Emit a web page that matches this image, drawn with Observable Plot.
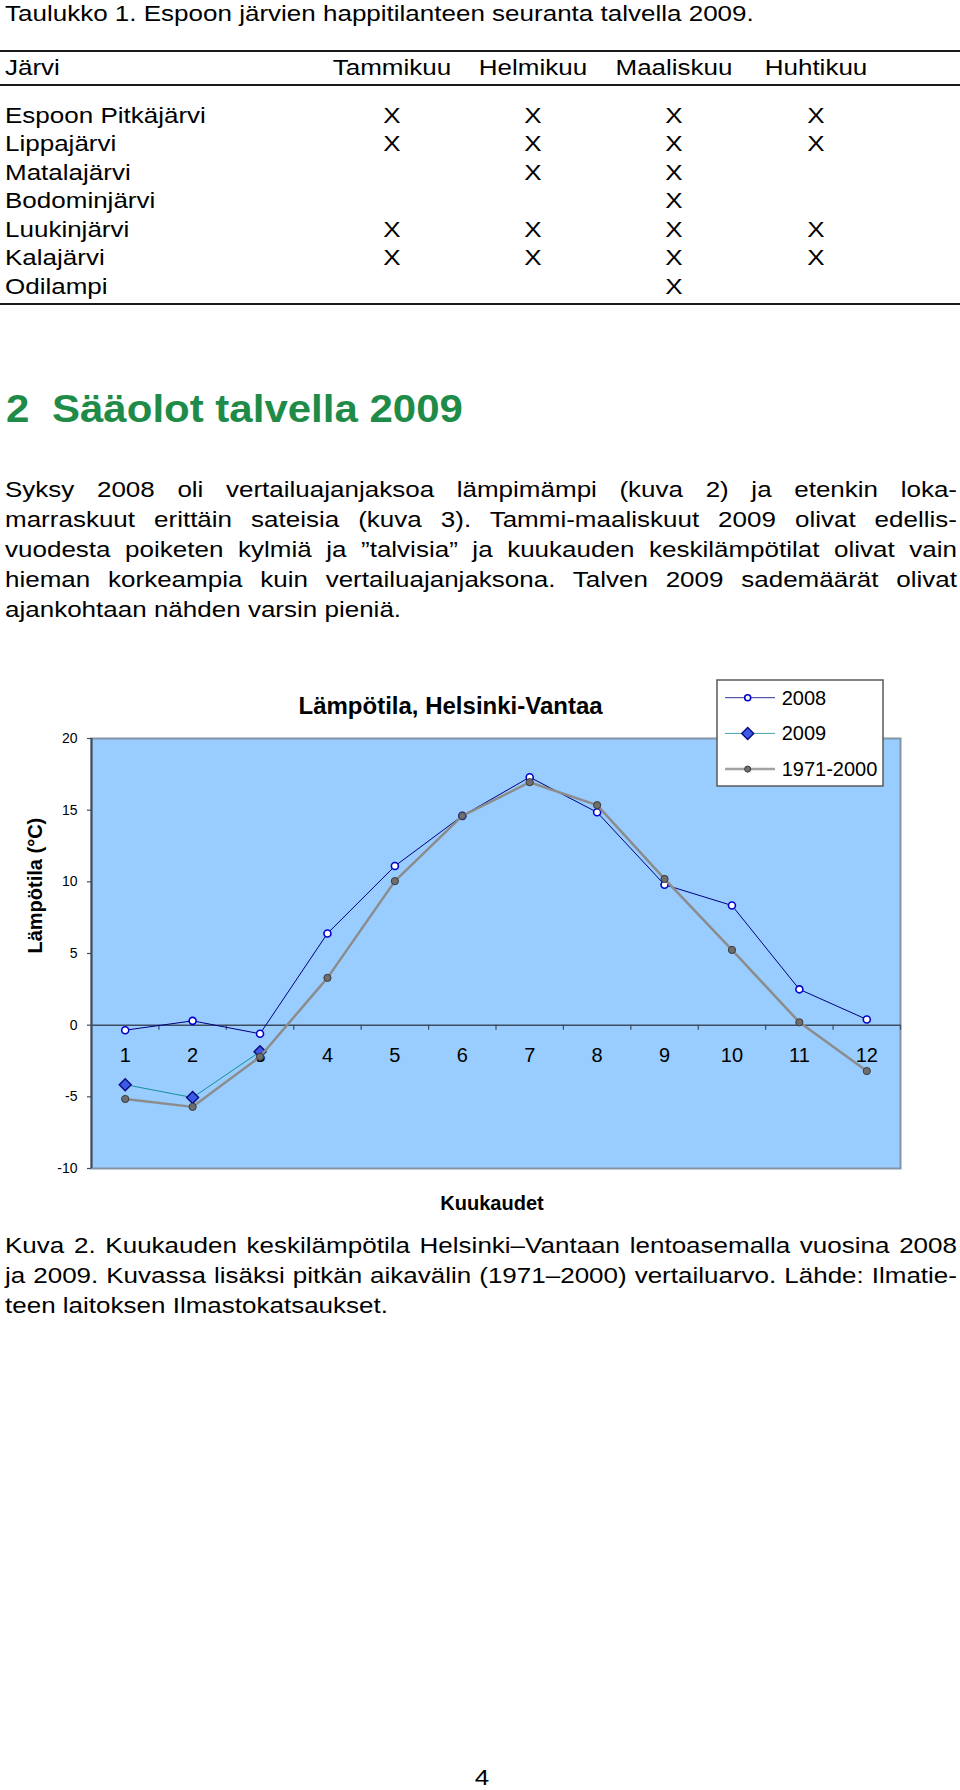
<!DOCTYPE html>
<html><head><meta charset="utf-8">
<script src="https://cdn.jsdelivr.net/npm/d3@7"></script>
<script src="https://cdn.jsdelivr.net/npm/@observablehq/plot@0.6"></script>
<style>
html,body{margin:0;padding:0;background:#fff;}
#page{position:relative;width:960px;height:1790px;overflow:hidden;font-family:"Liberation Sans",Arial,sans-serif;color:#000;}
.t{position:absolute;white-space:pre;}
.rule{position:absolute;left:0;width:960px;height:2px;background:#1a1a1a;}
</style></head><body><div id="page"></div>
<script>
// ---------- data ----------
const tableTitle = "Taulukko 1. Espoon järvien happitilanteen seuranta talvella 2009.";
const tableFirstHeader = "Järvi";
const tableMonths = ["Tammikuu", "Helmikuu", "Maaliskuu", "Huhtikuu"];
const lakes = ["Espoon Pitkäjärvi", "Lippajärvi", "Matalajärvi", "Bodominjärvi", "Luukinjärvi", "Kalajärvi", "Odilampi"];
const sampled = [[1,1,1,1],[1,1,1,1],[0,1,1,0],[0,0,1,0],[1,1,1,1],[1,1,1,1],[0,0,1,0]];
const headingNumber = "2";
const headingText = "Sääolot talvella 2009";
const paragraphLines = [
  "Syksy 2008 oli vertailuajanjaksoa lämpimämpi (kuva 2) ja etenkin loka-",
  "marraskuut erittäin sateisia (kuva 3). Tammi-maaliskuut 2009 olivat edellis-",
  "vuodesta poiketen kylmiä ja ”talvisia” ja kuukauden keskilämpötilat olivat vain",
  "hieman korkeampia kuin vertailuajanjaksona. Talven 2009 sademäärät olivat",
  "ajankohtaan nähden varsin pieniä."
];
const captionLines = [
  "Kuva 2. Kuukauden keskilämpötila Helsinki–Vantaan lentoasemalla vuosina 2008",
  "ja 2009. Kuvassa lisäksi pitkän aikavälin (1971–2000) vertailuarvo. Lähde: Ilmatie-",
  "teen laitoksen Ilmastokatsaukset."
];
const pageNumber = "4";

const months = [1, 2, 3, 4, 5, 6, 7, 8, 9, 10, 11, 12];
const temp2008 = [-0.35, 0.3, -0.6, 6.4, 11.1, 14.6, 17.3, 14.85, 9.8, 8.35, 2.5, 0.4];
const temp2009 = [-4.15, -5.05, -1.85];
const temp1971_2000 = [-5.15, -5.7, -2.2, 3.3, 10.05, 14.6, 16.95, 15.35, 10.2, 5.25, 0.2, -3.2];
const seriesNames = ["2008", "2009", "1971-2000"];
const yTicks = [-10, -5, 0, 5, 10, 15, 20];
const chartTitle = "Lämpötila, Helsinki-Vantaa";
const xTitle = "Kuukaudet";
const yTitle = "Lämpötila (°C)";

// ---------- styles ----------
const FONT = "'Liberation Sans', Arial, sans-serif";
const sty = {
  "2008": {line: "#000080", lw: 1, sym: "circle", fill: "#ffffff", stroke: "#0000cc", sw: 1.6, r: 3.5},
  "2009": {line: "#12909a", lw: 1, sym: "diamond2", fill: "#3c5ae6", stroke: "#0a0a80", sw: 1.4, r: 5.4},
  "1971-2000": {line: "#8c8c8c", lw: 2.5, sym: "circle", fill: "#6e6e6e", stroke: "#3a3a3a", sw: 1, r: 3.6}
};

// ---------- document text ----------
const page = document.getElementById("page");
const BODY = 26, BODY_SY = 0.85;
function txt(str, {left, width, baseline, size = BODY, weight = 400, color = "#000", align = "left", sy = BODY_SY, justify = false}) {
  const d = document.createElement("div");
  d.className = "t";
  d.textContent = str;
  const asc = 0.8465 * size;
  Object.assign(d.style, {
    left: left + "px", top: (baseline - asc) + "px",
    fontSize: size + "px", lineHeight: size + "px", fontWeight: weight, color,
    textAlign: align, transformOrigin: `0 ${asc}px`, transform: `scaleY(${sy})`
  });
  if (width != null) d.style.width = width + "px";
  if (justify) { d.style.whiteSpace = "normal"; d.style.textAlign = "justify"; d.style.textAlignLast = "justify"; }
  page.appendChild(d);
}
function rule(y) {
  const r = document.createElement("div");
  r.className = "rule"; r.style.top = y + "px";
  page.appendChild(r);
}

// table
txt(tableTitle, {left: 5, baseline: 21});
rule(50); rule(84); rule(303);
const colCenters = [392, 533, 674, 816];
txt(tableFirstHeader, {left: 5, baseline: 75});
tableMonths.forEach((m, j) => txt(m, {left: colCenters[j] - 100, width: 200, align: "center", baseline: 75}));
lakes.forEach((lake, i) => {
  const b = 123 + 28.5 * i;
  txt(lake, {left: 5, baseline: b});
  sampled[i].forEach((v, j) => { if (v) txt("X", {left: colCenters[j] - 100, width: 200, align: "center", baseline: b}); });
});

// heading
txt(headingNumber, {left: 6, baseline: 423, size: 42, weight: 700, color: "#1e8c48", sy: 0.92});
txt(headingText, {left: 52, baseline: 423, size: 42, weight: 700, color: "#1e8c48", sy: 0.92});

// paragraph
paragraphLines.forEach((l, i) => {
  const last = i === paragraphLines.length - 1;
  txt(l, {left: 5, width: 952, baseline: 497 + 30 * i, justify: !last});
});

// caption
captionLines.forEach((l, i) => {
  const last = i === captionLines.length - 1;
  txt(l, {left: 5, width: 952, baseline: 1253 + 30 * i, justify: !last});
});

txt(pageNumber, {left: 432, width: 100, align: "center", baseline: 1785});

// ---------- chart ----------
const rows = (name, vals) => vals.map((v, i) => ({month: months[i], temp: v, series: name}));
const d2008 = rows("2008", temp2008);
const d2009 = rows("2009", temp2009);
const dNorm = rows("1971-2000", temp1971_2000);
const bounds = months.map(m => m + 0.5);
const axisCol = "#3d4d5e";

function seriesMarks(data, name) {
  const s = sty[name];
  return [
    Plot.line(data, {x: "month", y: "temp", stroke: s.line, strokeWidth: s.lw}),
    Plot.dot(data, {x: "month", y: "temp", symbol: s.sym, r: s.r, fill: s.fill, stroke: s.stroke, strokeWidth: s.sw})
  ];
}

const chart = Plot.plot({
  width: 960, height: 550,
  marginTop: 68, marginBottom: 52, marginLeft: 91, marginRight: 60,
  x: {type: "linear", domain: [0.5, 12.5], axis: null},
  y: {domain: [-10, 20], axis: null},
  style: {fontFamily: FONT, fontSize: "14px", color: "#000", background: "transparent", overflow: "visible"},
  marks: [
    Plot.frame({fill: "#99ccff", stroke: "#8494a6", strokeWidth: 2}),
    Plot.axisY({ticks: yTicks, tickFormat: d => String(d), tickSize: 4, tickPadding: 10, fontSize: 14, label: null, stroke: axisCol, strokeWidth: 1.2}),
    Plot.ruleX([0.5], {stroke: axisCol, strokeWidth: 2}),
    Plot.ruleY([0], {stroke: axisCol, strokeWidth: 1.5}),
    Plot.ruleX(bounds, {x: d => d, y1: 0, y2: -0.35, stroke: axisCol, strokeWidth: 1.2}),
    Plot.text(months, {x: d => d, y: 0, dy: 30, text: d => String(d), fontSize: 20, fill: "#000"}),
    ...seriesMarks(d2008, "2008"),
    ...seriesMarks(d2009, "2009"),
    ...seriesMarks(dNorm, "1971-2000"),
    Plot.text([chartTitle], {text: d => d, frameAnchor: "top-left", textAnchor: "start", lineAnchor: "bottom", dx: 207, dy: -25, fontSize: 24, fontWeight: "bold"}),
    Plot.text([xTitle], {text: d => d, frameAnchor: "bottom", lineAnchor: "bottom", dx: -4, dy: 41, fontSize: 20, fontWeight: "bold"}),
    Plot.text([yTitle], {text: d => d, frameAnchor: "left", rotate: -90, dx: -56, fontSize: 20, fontWeight: "bold"})
  ]
});
chart.style.position = "absolute";
chart.style.left = "0px";
chart.style.top = "670px";
page.appendChild(chart);

// ---------- legend ----------
const NS = "http://www.w3.org/2000/svg";
const leg = document.createElementNS(NS, "svg");
leg.setAttribute("width", 168); leg.setAttribute("height", 108);
Object.assign(leg.style, {position: "absolute", left: "716px", top: "679px"});
function el(tag, attrs, parent) {
  const e = document.createElementNS(NS, tag);
  for (const k in attrs) e.setAttribute(k, attrs[k]);
  parent.appendChild(e); return e;
}
el("rect", {x: 1, y: 1, width: 166, height: 106, fill: "#fff", stroke: "#5a5a5a", "stroke-width": 1.5}, leg);
seriesNames.forEach((name, i) => {
  const s = sty[name];
  const cy = 18.7 + 35.7 * i;
  el("line", {x1: 9, x2: 59, y1: cy, y2: cy, stroke: s.line, "stroke-width": s.lw, opacity: 0.8}, leg);
  if (s.sym === "circle") {
    el("circle", {cx: 31.7, cy, r: s.r * 0.85, fill: s.fill, stroke: s.stroke, "stroke-width": s.sw}, leg);
  } else {
    const h = 6;
    el("path", {d: `M31.7,${cy - h}L${31.7 + h},${cy}L31.7,${cy + h}L${31.7 - h},${cy}Z`, fill: s.fill, stroke: s.stroke, "stroke-width": s.sw}, leg);
  }
  const t = el("text", {x: 65.7, y: cy + 7, "font-size": 20, "font-family": FONT, fill: "#000"}, leg);
  t.textContent = name;
});
page.appendChild(leg);
</script>
</body></html>
